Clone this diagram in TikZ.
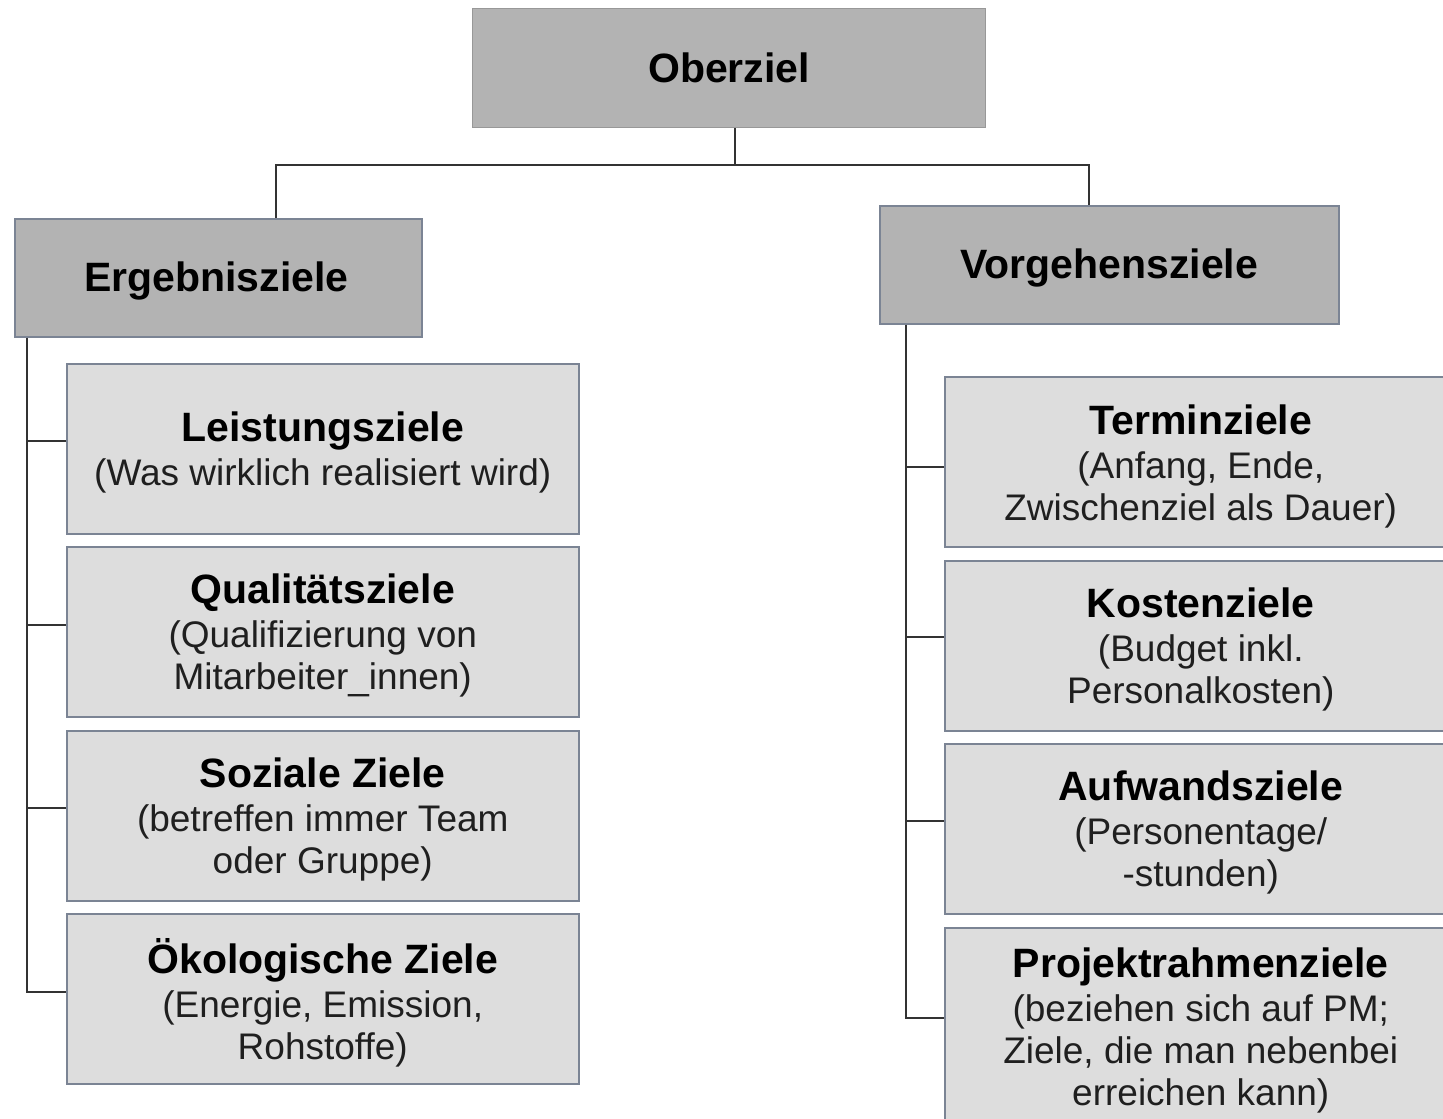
\documentclass[tikz,border=0pt]{standalone}
\usepackage{fontspec}
\setmainfont{Liberation Sans}
\definecolor{darkfill}{HTML}{B3B3B3}
\definecolor{lightfill}{HTML}{DDDDDD}
\definecolor{edgecol}{HTML}{7B8494}
\definecolor{linecol}{HTML}{333333}
\tikzset{
  topbox/.style={rectangle, fill=darkfill, draw=darkfill!85!black, line width=1.2pt, inner sep=0pt, anchor=north west},
  groupbox/.style={rectangle, fill=darkfill, draw=edgecol, line width=1.5pt, inner sep=0pt, anchor=north west},
  leafbox/.style={rectangle, fill=lightfill, draw=edgecol, line width=1.5pt, inner sep=0pt, anchor=north west},
  titletext/.style={inner sep=0pt, align=center, font=\fontsize{41}{44}\selectfont\bfseries},
  leaftext/.style={inner sep=0pt, align=center, text=black!88, font=\fontsize{37}{42}\selectfont},
  conn/.style={draw=linecol, line width=1.5pt}
}
\newcommand{\ttl}[1]{{\fontsize{41}{44}\selectfont\bfseries\color{black}#1}}
\begin{document}
\begin{tikzpicture}[x=1pt,y=-1pt]
\useasboundingbox (0,0) rectangle (1443,1119);
\clip (0,0) rectangle (1443,1119);
\fill[white] (0,0) rectangle (1443,1119);

% top
\node[topbox, minimum width=513pt, minimum height=119pt] (ober) at (472,8) {};
\node[titletext] (obert) at (ober.center) {Oberziel};
\node[groupbox, minimum width=407pt, minimum height=118pt] (erg) at (14,218) {};
\node[titletext] (ergt) at ([xshift=-2pt,yshift=-3.5pt]erg.center) {Ergebnisziele};
\node[groupbox, minimum width=459pt, minimum height=118pt] (vor) at (879,205) {};
\node[titletext] (vort) at ([yshift=-3.5pt]vor.center) {Vorgehensziele};

% left leaves
\node[leafbox, minimum width=512pt, minimum height=170pt] (L1) at (66,363) {};
\node[leaftext] (L1t) at ([yshift=-4pt]L1.center) {\ttl{Leistungsziele}\\[2pt](Was wirklich realisiert wird)};
\node[leafbox, minimum width=512pt, minimum height=170pt] (L2) at (66,546) {};
\node[leaftext] (L2t) at ([yshift=-4pt]L2.center) {\ttl{Qualitätsziele}\\[2pt](Qualifizierung von\\Mitarbeiter\_innen)};
\node[leafbox, minimum width=512pt, minimum height=170pt] (L3) at (66,730) {};
\node[leaftext] (L3t) at ([yshift=-4pt]L3.center) {\ttl{Soziale Ziele}\\[2pt](betreffen immer Team\\oder Gruppe)};
\node[leafbox, minimum width=512pt, minimum height=170pt] (L4) at (66,913) {};
\node[leaftext] (L4t) at ([yshift=-4pt]L4.center) {\ttl{Ökologische Ziele}\\[2pt](Energie, Emission,\\Rohstoffe)};

% right leaves
\node[leafbox, minimum width=512pt, minimum height=170pt] (R1) at (944,376) {};
\node[leaftext] (R1t) at ([yshift=-4.5pt]R1.center) {\ttl{Terminziele}\\[2pt](Anfang, Ende,\\Zwischenziel als Dauer)};
\node[leafbox, minimum width=512pt, minimum height=170pt] (R2) at (944,560) {};
\node[leaftext] (R2t) at ([yshift=-3.5pt]R2.center) {\ttl{Kostenziele}\\[2pt](Budget inkl.\\Personalkosten)};
\node[leafbox, minimum width=512pt, minimum height=170pt] (R3) at (944,743) {};
\node[leaftext] (R3t) at ([yshift=-4pt]R3.center) {\ttl{Aufwandsziele}\\[2pt](Personentage/\\-stunden)};
\node[leafbox, minimum width=512pt, minimum height=197pt] (R4) at (944,927) {};
\node[leaftext] (R4t) at ([yshift=-4pt]R4.center) {\ttl{Projektrahmenziele}\\[2pt](beziehen sich auf PM;\\Ziele, die man nebenbei\\erreichen kann)};

% connectors top
\coordinate (hubM) at (735,165);
\coordinate (hubL) at (276,165);
\coordinate (hubR) at (1089,165);
\draw[conn] (ober.south -| hubM) -- (hubM);
\draw[conn] (erg.north -| hubL) -- (hubL) -- (hubR) -- (vor.north -| hubR);

% left trunk
\coordinate (bL1) at (27,441);
\coordinate (bL2) at (27,625);
\coordinate (bL3) at (27,808);
\coordinate (bL4) at (27,992);
\draw[conn] (erg.south -| bL1) -- (bL4) -- (L4.west |- bL4);
\draw[conn] (bL1) -- (L1.west |- bL1);
\draw[conn] (bL2) -- (L2.west |- bL2);
\draw[conn] (bL3) -- (L3.west |- bL3);

% right trunk
\coordinate (bR1) at (906,467);
\coordinate (bR2) at (906,637);
\coordinate (bR3) at (906,821);
\coordinate (bR4) at (906,1018);
\draw[conn] (vor.south -| bR1) -- (bR4) -- (R4.west |- bR4);
\draw[conn] (bR1) -- (R1.west |- bR1);
\draw[conn] (bR2) -- (R2.west |- bR2);
\draw[conn] (bR3) -- (R3.west |- bR3);
\end{tikzpicture}
\end{document}
